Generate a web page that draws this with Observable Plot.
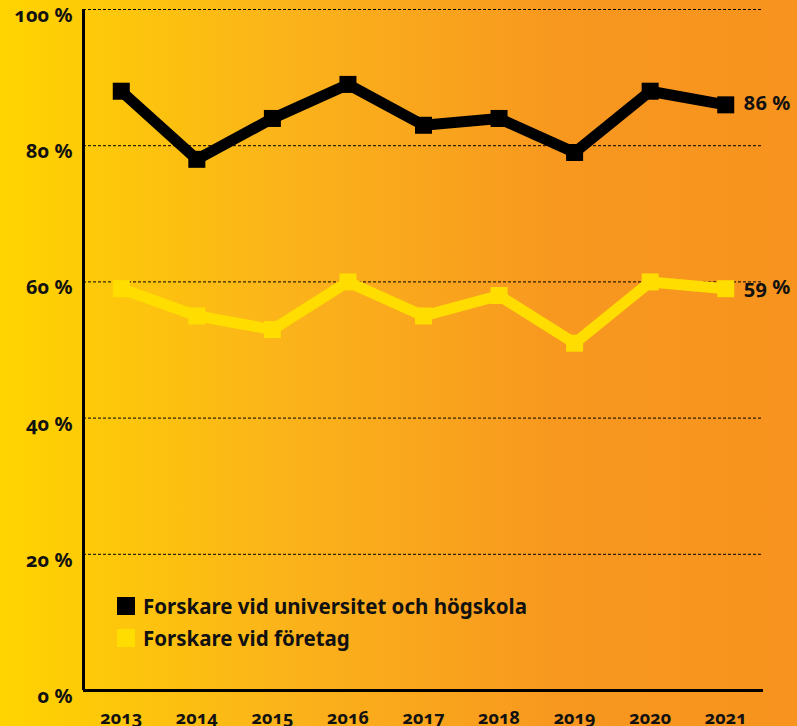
<!DOCTYPE html>
<html>
<head>
<meta charset="utf-8">
<script src="https://cdn.jsdelivr.net/npm/d3@7"></script>
<script src="https://cdn.jsdelivr.net/npm/@observablehq/plot@0.6"></script>
<style>
  html, body { margin: 0; padding: 0; }
  #wrap { position: relative; width: 797px; height: 726px; overflow: hidden; background: linear-gradient(to right, #FFD400 0%, #FBB41A 35%, #F8981F 70%, #F7931E 100%); font-family: "Noto Sans", sans-serif; }
  #wrap svg { position: absolute; left: 0; top: 0; background: transparent; }
  .legend { position: absolute; left: 117px; top: 590px; font-weight: 700; font-size: 20.5px; line-height: 32px; color: #111; }
  .legend div { display: flex; align-items: center; white-space: nowrap; }
  .legend span.sw { display: inline-block; width: 18px; height: 18px; margin-right: 8px; }
</style>
</head>
<body>
<div id="wrap"></div>
<script>
const years = [2013, 2014, 2015, 2016, 2017, 2018, 2019, 2020, 2021];
const universitet = [88, 78, 84, 89, 83, 84, 79, 88, 86];
const foretag = [59, 55, 53, 60, 55, 58, 51, 60, 59];
const seriesNames = ["Forskare vid universitet och högskola", "Forskare vid företag"];
const seriesColors = ["#000000", "#FFDD00"];
const yTicks = [0, 20, 40, 60, 80, 100];

const data = [];
years.forEach((y, i) => {
  data.push({year: y, value: universitet[i], series: seriesNames[0]});
  data.push({year: y, value: foretag[i], series: seriesNames[1]});
});
const last = data.filter(d => d.year === years[years.length - 1]);

const chart = Plot.plot({
  width: 797,
  height: 726,
  marginLeft: 83,
  marginRight: 34,
  marginTop: 9,
  marginBottom: 36,
  style: {background: "transparent", fontFamily: "'Noto Sans', sans-serif", fontVariantNumeric: "oldstyle-nums"},
  x: {domain: [2012.5, 2021.5], axis: null},
  y: {domain: [0, 100], axis: null},
  color: {domain: seriesNames, range: seriesColors},
  marks: [
    Plot.ruleY(yTicks.filter(t => t > 0), {stroke: "#000", strokeWidth: 1, strokeDasharray: "3,2"}),
    Plot.ruleX([2012.5], {y1: 0, y2: 100, stroke: "#000", strokeWidth: 3}),
    Plot.ruleY([0], {stroke: "#000", strokeWidth: 3}),
    Plot.text(yTicks, {x: 2012.5, y: d => d, text: d => d + " %", textAnchor: "end", dx: -11, dy: 6, fontSize: 20, fontWeight: 700, fill: "#111", letterSpacing: "0.3px"}),
    Plot.text(years, {x: d => d, y: 0, text: d => String(d), dy: 28, fontSize: 18, fontWeight: 700, fill: "#111"}),
    Plot.line(data, {x: "year", y: "value", z: "series", stroke: "series", strokeWidth: 11, strokeLinejoin: "miter"}),
    Plot.dot(data, {x: "year", y: "value", fill: "series", symbol: "square", r: 9.6, stroke: "none"}),
    Plot.text(last, {x: "year", y: "value", text: d => d.value + " %", textAnchor: "start", dx: 18, dy: -1, fontSize: 20, fontWeight: 700, fill: "#111", letterSpacing: "0.3px"})
  ]
});
const wrap = document.getElementById("wrap");
wrap.appendChild(chart);

const legend = document.createElement("div");
legend.className = "legend";
seriesNames.forEach((n, i) => {
  const row = document.createElement("div");
  const sw = document.createElement("span");
  sw.className = "sw";
  sw.style.background = seriesColors[i];
  row.appendChild(sw);
  row.appendChild(document.createTextNode(n));
  legend.appendChild(row);
});
wrap.appendChild(legend);
</script>
</body>
</html>
